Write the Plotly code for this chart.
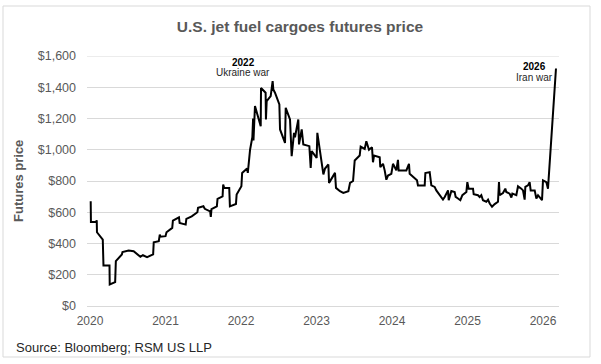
import plotly.graph_objects as go

# Data (decimal year, $ price)
years = [
    2020.009, 2020.012, 2020.080, 2020.089, 2020.092, 2020.156, 2020.169, 2020.178, 2020.258, 2020.261,
    2020.333, 2020.342, 2020.380, 2020.422, 2020.430, 2020.511, 2020.578, 2020.622, 2020.667, 2020.700,
    2020.756, 2020.836, 2020.844, 2020.911, 2020.924, 2020.933, 2021.000, 2021.013, 2021.089, 2021.098,
    2021.178, 2021.187, 2021.267, 2021.276, 2021.347, 2021.422, 2021.431, 2021.502, 2021.520, 2021.591,
    2021.600, 2021.609, 2021.680, 2021.689, 2021.756, 2021.764, 2021.778, 2021.844, 2021.853, 2021.933,
    2021.942, 2022.005, 2022.015, 2022.080, 2022.090, 2022.120, 2022.150, 2022.160, 2022.165, 2022.185,
    2022.261, 2022.265, 2022.326, 2022.330, 2022.340, 2022.393, 2022.419, 2022.428, 2022.450, 2022.508,
    2022.517, 2022.583, 2022.592, 2022.649, 2022.671, 2022.702, 2022.715, 2022.759, 2022.768, 2022.804,
    2022.825, 2022.905, 2022.923, 2022.936, 2023.002, 2023.011, 2023.069, 2023.091, 2023.113, 2023.157,
    2023.166, 2023.245, 2023.258, 2023.311, 2023.355, 2023.422, 2023.444, 2023.484, 2023.506, 2023.572,
    2023.585, 2023.638, 2023.660, 2023.695, 2023.735, 2023.748, 2023.762, 2023.837, 2023.845, 2023.881,
    2023.903, 2023.925, 2023.947, 2023.991, 2024.013, 2024.057, 2024.079, 2024.088, 2024.190, 2024.225,
    2024.234, 2024.256, 2024.300, 2024.331, 2024.344, 2024.433, 2024.442, 2024.499, 2024.521, 2024.565,
    2024.587, 2024.631, 2024.675, 2024.698, 2024.742, 2024.751, 2024.786, 2024.830, 2024.843, 2024.874,
    2024.905, 2024.932, 2024.985, 2024.998, 2025.015, 2025.073, 2025.082, 2025.139, 2025.161, 2025.183,
    2025.205, 2025.249, 2025.272, 2025.294, 2025.325, 2025.360, 2025.404, 2025.417, 2025.426, 2025.470,
    2025.501, 2025.514, 2025.558, 2025.581, 2025.594, 2025.647, 2025.669, 2025.713, 2025.735, 2025.757,
    2025.766, 2025.801, 2025.823, 2025.837, 2025.890, 2025.912, 2025.934, 2025.987, 2026.000, 2026.044,
    2026.066, 2026.172,
]
prices = [
    670, 538, 538, 548, 472, 436, 425, 260, 260, 138,
    153, 287, 310, 330, 345, 355, 350, 330, 315, 325,
    313, 330, 408, 415, 457, 443, 447, 472, 500, 547,
    568, 532, 521, 557, 574, 600, 628, 638, 622, 606,
    570, 620, 638, 685, 702, 777, 755, 755, 638, 653,
    713, 766, 851, 880, 852, 1000, 1080, 1200, 1060, 1280,
    1150, 1395, 1365, 1194, 1311, 1343, 1439, 1386, 1365, 1290,
    1130, 1044, 1268, 1194, 959, 1108, 1080, 1194, 1034, 1130,
    1034, 1023, 884, 991, 948, 1108, 906, 842, 880, 906,
    788, 852, 756, 735, 724, 735, 788, 800, 931, 963,
    1020, 1005, 1054, 1000, 1016, 920, 963, 952, 889, 910,
    868, 808, 835, 846, 910, 868, 935, 868, 868, 910,
    846, 836, 815, 804, 772, 772, 851, 857, 772, 762,
    740, 709, 681, 698, 740, 677, 736, 730, 698, 688,
    677, 709, 730, 793, 751, 751, 715, 709, 698, 709,
    677, 667, 681, 656, 635, 652, 667, 793, 709, 723,
    751, 730, 719, 694, 719, 709, 766, 751, 740, 681,
    762, 772, 793, 740, 740, 688, 709, 677, 804, 793,
    751, 1520,
]

x_ticks = [2020, 2021, 2022, 2023, 2024, 2025, 2026]
x_ticktext = ["2020", "2021", "2022", "2023", "2024", "2025", "2026"]
y_ticks = [0, 200, 400, 600, 800, 1000, 1200, 1400, 1600]
y_ticktext = ["$0", "$200", "$400", "$600", "$800", "$1,000", "$1,200", "$1,400", "$1,600"]

FONT = "Arial, Liberation Sans, sans-serif"
W, H = 601, 364
L, R, T, B = 87, 42, 56, 58
PW, PH = W - L - R, H - T - B

def px_x(x):
    return (x - L) / PW

def px_y(y):
    return (H - B - y) / PH

fig = go.Figure()
fig.add_trace(go.Scatter(
    x=years, y=prices, mode="lines",
    line=dict(color="black", width=2),
    hoverinfo="skip", showlegend=False,
))

fig.update_layout(
    width=W, height=H,
    margin=dict(l=L, r=R, t=T, b=B),
    paper_bgcolor="white", plot_bgcolor="white",
    font=dict(family=FONT, color="#595959", size=12),
    title=dict(
        text="<b>U.S. jet fuel cargoes futures price</b>",
        x=300 / W, xanchor="center", y=1 - 27 / H, yanchor="middle",
        font=dict(size=15.5, color="#595959", family=FONT),
    ),
    xaxis=dict(
        range=[2019.960, 2026.212],
        tickvals=x_ticks, ticktext=x_ticktext,
        showgrid=False, zeroline=False, showline=False,
        ticks="", ticklabelstandoff=6,
        tickfont=dict(size=12, color="#595959"),
        fixedrange=True,
    ),
    yaxis=dict(
        range=[0, 1600],
        tickvals=y_ticks, ticktext=y_ticktext,
        showgrid=True, gridcolor="#d9d9d9", gridwidth=1,
        zeroline=True, zerolinecolor="#d9d9d9", zerolinewidth=1,
        showline=False, ticks="", ticklabelstandoff=10,
        tickfont=dict(size=12.5, color="#595959"),
        fixedrange=True,
    ),
    shapes=[
        dict(type="rect", xref="paper", yref="paper",
             x0=px_x(3), x1=px_x(590), y0=px_y(357), y1=px_y(6),
             line=dict(color="#d9d9d9", width=1), fillcolor="rgba(0,0,0,0)", layer="below"),
        dict(type="line", xref="paper", yref="y",
             x0=0, x1=1, y0=1600, y1=1600,
             line=dict(color="#d9d9d9", width=1), layer="below"),
    ],
    annotations=[
        dict(text="<b>Futures price</b>", xref="paper", yref="paper",
             x=px_x(18), y=px_y(181), textangle=-90, showarrow=False,
             xanchor="center", yanchor="middle",
             font=dict(size=13, color="#595959", family=FONT)),
        dict(text="Source: Bloomberg; RSM US LLP", xref="paper", yref="paper",
             x=px_x(14), y=px_y(347), showarrow=False,
             xanchor="left", yanchor="middle",
             font=dict(size=13, color="#262626", family=FONT)),
        dict(text="<b>2022</b>", xref="paper", yref="paper",
             x=px_x(243), y=px_y(62), showarrow=False,
             xanchor="center", yanchor="middle",
             font=dict(size=10, color="black", family=FONT)),
        dict(text="Ukraine war", xref="paper", yref="paper",
             x=px_x(243), y=px_y(73), showarrow=False,
             xanchor="center", yanchor="middle",
             font=dict(size=10, color="#262626", family=FONT)),
        dict(text="<b>2026</b>", xref="paper", yref="paper",
             x=px_x(534), y=px_y(66.5), showarrow=False,
             xanchor="center", yanchor="middle",
             font=dict(size=10, color="black", family=FONT)),
        dict(text="Iran war", xref="paper", yref="paper",
             x=px_x(534), y=px_y(77.5), showarrow=False,
             xanchor="center", yanchor="middle",
             font=dict(size=10, color="#262626", family=FONT)),
    ],
)

fig.write_html(
    "out.html",
    config={"displayModeBar": False},
    post_script="document.body.style.margin='0';document.body.style.padding='0';",
)
